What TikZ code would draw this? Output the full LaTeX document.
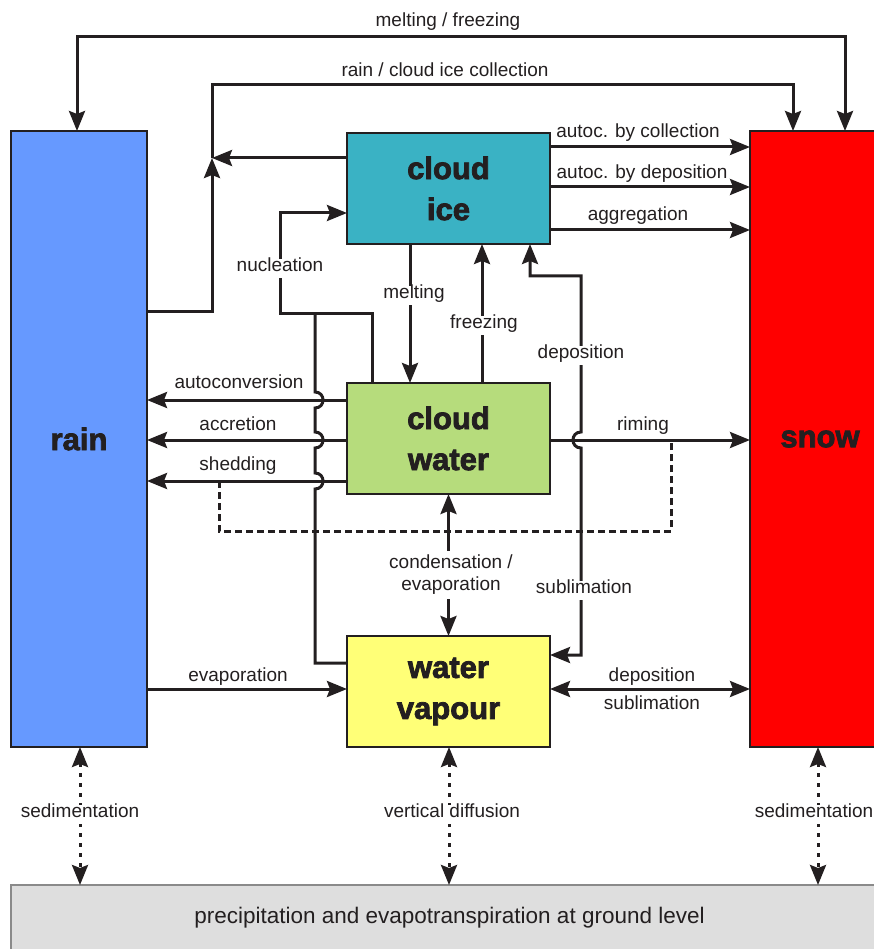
\documentclass[tikz,border=0pt]{standalone}
\usepackage{fontspec}
\setmainfont{Liberation Sans}
\newfontfamily\heavyfont[FakeBold=2.5]{Liberation Sans Bold}
\usetikzlibrary{arrows.meta}
\definecolor{ln}{HTML}{231F20}
\definecolor{rainc}{HTML}{6699FF}
\definecolor{snowc}{HTML}{FF0000}
\definecolor{icec}{HTML}{3AB2C4}
\definecolor{cwc}{HTML}{B6DC7C}
\definecolor{wvc}{HTML}{FFFF77}
\definecolor{grc}{HTML}{DEDEDE}
\definecolor{grb}{HTML}{8A8A8A}
\begin{document}
\begin{tikzpicture}[x=1pt,y=-1pt,
  box/.style={draw=ln, line width=2.5pt, inner sep=0pt, outer sep=0pt, align=center,
    font=\heavyfont\fontsize{31}{41}\selectfont, text=ln},
  lab/.style={inner sep=1pt, font=\fontsize{19}{22}\selectfont, text=ln, align=center,
    text height=0.72em, text depth=0.21em, yshift=-3.5pt},
  wlab/.style={lab, fill=white, inner xsep=3pt, inner ysep=4.5pt},
  con/.style={draw=ln, line width=3pt},
  tip/.style={-{Stealth[length=20pt,width=16pt,inset=3pt]}},
  tips/.style={{Stealth[length=20pt,width=16pt,inset=3pt]}-{Stealth[length=20pt,width=16pt,inset=3pt]}},
  shed/.style={draw=ln, line width=3pt, dash pattern=on 7pt off 4pt},
  sed/.style={draw=ln, line width=3pt, dash pattern=on 4pt off 6pt},
]
\path[use as bounding box, clip] (0,0) rectangle (874,949);

% boxes
\node[box, fill=rainc, minimum width=136pt, minimum height=616pt] (rain) at (79,439) {rain};
\node[box, fill=snowc, minimum width=140pt, minimum height=616pt] (snow) at (820,439) {snow};
\node[box, fill=icec, minimum width=203pt, minimum height=111pt] (ice) at (448.5,188.5) {cloud\\ice};
\node[box, fill=cwc, minimum width=203pt, minimum height=111pt] (water) at (448.5,438.5) {cloud\\water};
\node[box, fill=wvc, minimum width=203pt, minimum height=111pt] (vapour) at (448.5,691.5) {water\\vapour};
\node[draw=grb, line width=2pt, fill=grc, minimum width=879pt, minimum height=66pt, inner sep=0pt, outer sep=0pt,
  font=\fontsize{22.5}{26}\selectfont, text=ln] (ground) at (450.5,918) {\hspace*{-2pt}precipitation and evapotranspiration at ground level};

% coordinates
\coordinate (mfL) at (77,37);
\coordinate (mfR) at (845,37);
\coordinate (rc) at (212,158);
\coordinate (rcB) at (212,311);
\coordinate (rcT) at (212,85);
\coordinate (rcR) at (793,85);
\coordinate (a1) at (0,147);
\coordinate (a2) at (0,187);
\coordinate (a3) at (0,230);
\coordinate (n1) at (372,313);
\coordinate (n2) at (280,313);
\coordinate (n3) at (280,213);
\coordinate (n4) at (315,313);
\coordinate (n5) at (315,663);
\coordinate (mx) at (410,0);
\coordinate (fx) at (482,0);
\coordinate (d1) at (530,276);
\coordinate (d2) at (581,276);
\coordinate (d3) at (581,655);
\coordinate (h1) at (0,400);
\coordinate (h2) at (0,440);
\coordinate (h3) at (0,481);
\coordinate (s1) at (219,481);
\coordinate (s2) at (219,531);
\coordinate (s3) at (671,531);
\coordinate (s4) at (671,440);
\coordinate (ev) at (0,689);
\coordinate (x1) at (80,0);
\coordinate (x2) at (449,0);
\coordinate (x3) at (818,0);

% melting / freezing
\draw[con, tips] (rain.north -| mfL) -- (mfL) -- (mfR) -- (snow.north -| mfR);
% rain / cloud ice collection
\draw[con, tip] (rain.east |- rcB) -- (rcB) -- (rc);
\draw[con, tip] (ice.west |- rc) -- (rc);
\draw[con, tip] (rc) -- (rcT) -- (rcR) -- (snow.north -| rcR);
% ice to snow
\draw[con, tip] (ice.east |- a1) -- (snow.west |- a1);
\draw[con, tip] (ice.east |- a2) -- (snow.west |- a2);
\draw[con, tip] (ice.east |- a3) -- (snow.west |- a3);
% nucleation
\draw[con, tip] (water.north -| n1) -- (n1) -- (n2) -- (n3) -- (ice.west |- n3);
\draw[con] (vapour.west |- n5) -- (n5) -- (315,489) .. controls (325.7,489) and (325.7,473) .. (315,473)
  -- (315,448) .. controls (325.7,448) and (325.7,432) .. (315,432)
  -- (315,408) .. controls (325.7,408) and (325.7,392) .. (315,392) -- (n4);
% melting / freezing ice-water
\draw[con, tip] (ice.south -| mx) -- (water.north -| mx);
\draw[con, tip] (water.north -| fx) -- (ice.south -| fx);
% deposition / sublimation ice-vapour
\draw[con, tips] (ice.south -| d1) -- (d1) -- (d2) -- (581,432) .. controls (570.3,432) and (570.3,448) .. (581,448)
  -- (d3) -- (vapour.east |- d3);
% water to rain
\draw[con, tip] (water.west |- h1) -- (rain.east |- h1);
\draw[con, tip] (water.west |- h2) -- (rain.east |- h2);
\draw[con, tip] (water.west |- h3) -- (rain.east |- h3);
% riming
\draw[con, tip] (water.east |- h2) -- (snow.west |- h2);
% shedding dashed
\draw[shed] (s1) -- (s2) -- (s3) -- (s4);
% condensation / evaporation
\draw[con, tips] (water.south) -- (vapour.north);
% evaporation
\draw[con, tip] (rain.east |- ev) -- (vapour.west |- ev);
% deposition / sublimation vapour-snow
\draw[con, tips] (vapour.east |- ev) -- (snow.west |- ev);
% sedimentation / diffusion
\draw[sed, tips] (rain.south -| x1) -- (ground.north -| x1);
\draw[sed, tips] (vapour.south -| x2) -- (ground.north -| x2);
\draw[sed, tips] (snow.south -| x3) -- (ground.north -| x3);

% labels
\node[lab] (lmf) at (448,20) {melting / freezing};
\node[lab] (lrc) at (445,70) {rain / cloud ice collection};
\node[lab] (la1) at (638,131) {autoc. by collection};
\node[lab] (la2) at (642,172) {autoc. by deposition};
\node[lab] (la3) at (638,214) {aggregation};
\node[wlab] (lnu) at (280,265) {nucleation};
\node[wlab] (lme) at (414,292) {melting};
\node[wlab] (lfr) at (484,322) {freezing};
\node[wlab] (lde) at (581,352) {deposition};
\node[wlab] (lsu) at (584,587) {sublimation};
\node[lab] (lau) at (239,382) {autoconversion};
\node[lab] (lac) at (238,424) {accretion};
\node[lab] (lsh) at (238,464) {shedding};
\node[lab] (lri) at (643,424) {riming};
\node[wlab, text height=, text depth=, yshift=3.5pt] (lce) at (451,575) {condensation /\\evaporation};
\node[lab] (lev) at (238,675) {evaporation};
\node[lab] (ldv) at (652,675) {deposition};
\node[lab] (lsv) at (652,703) {sublimation};
\node[wlab] (ls1) at (80,811) {sedimentation};
\node[wlab] (lvd) at (452,811) {vertical diffusion};
\node[wlab] (ls2) at (814,811) {sedimentation};
\end{tikzpicture}
\end{document}
